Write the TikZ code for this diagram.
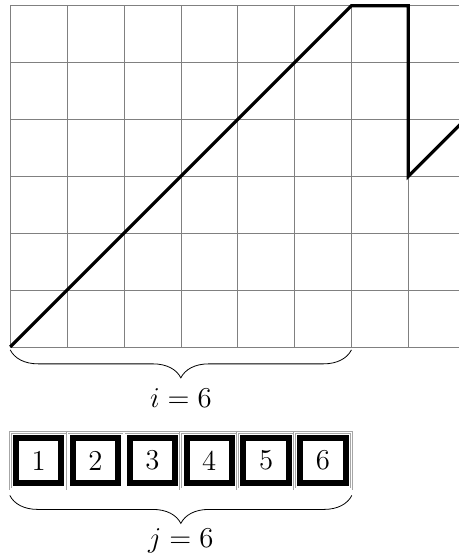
\documentclass[tikz,border=0pt]{standalone}
\usetikzlibrary{decorations.pathreplacing}
\begin{document}
\begin{tikzpicture}[font=\Large,
    cell/.style={draw=gray!70,double,minimum size=1cm,inner sep=0pt},
    numbox/.style={draw,line width=3pt,minimum size=0.8cm,inner sep=0pt},
    brace/.style={decorate,decoration={brace,mirror,amplitude=14pt,raise=#1}}]
            \useasboundingbox (-0.18,-3.66) rectangle (7.89,6.1);
            \clip (-0.18,-3.66) rectangle (7.89,6.1);
            \draw[help lines] (0,0) grid (8,6);
            \draw[ultra thick] (0,0) -- (6,6) -- (7,6) -- (7,3) -- (8,4);
            \coordinate (left) at (0,0);
            \coordinate (right) at (6,0);
            \draw[brace=1.5pt] (left) -- (right);
            \node[anchor=base] (ilabel) at (3,-1.06) {$i=6$};
            \foreach \i in {1,...,6} {
                \node[cell] (cell\i) at (\i-0.5,-2) {};
                \node[numbox] (box\i) at (cell\i) {\i};
            }
            \draw[brace=3pt] (cell1.south west) -- (cell6.south east);
            \node[anchor=base] (jlabel) at (3,-3.52) {$j=6$};
        \end{tikzpicture}
\end{document}
